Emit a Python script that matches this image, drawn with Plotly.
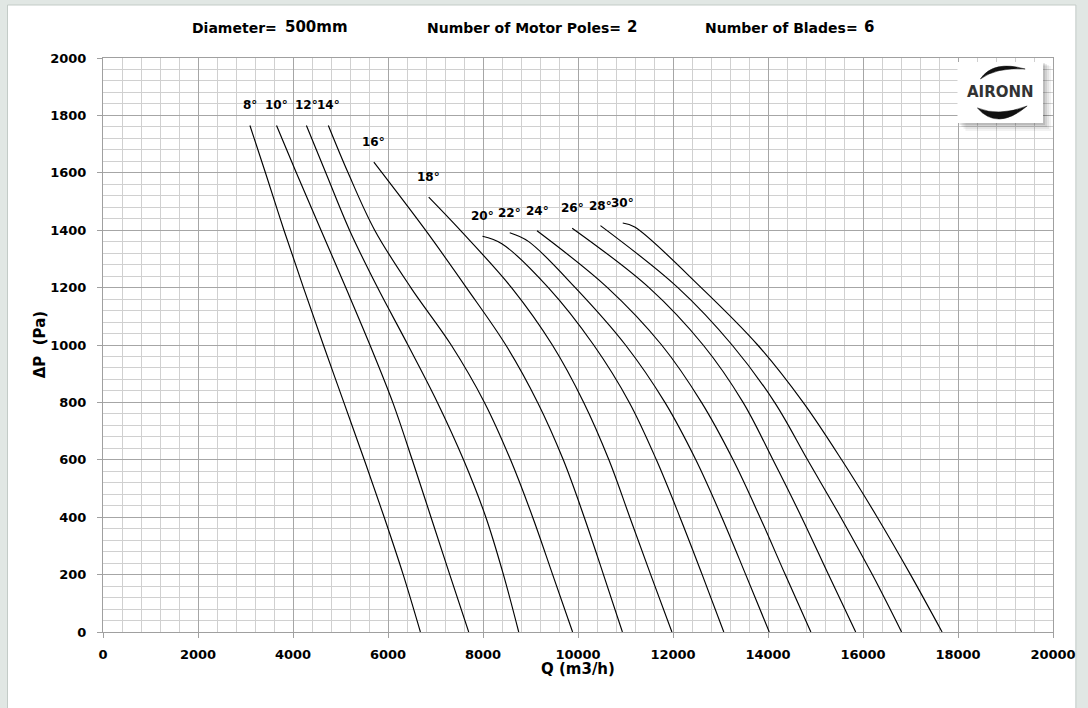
import plotly.graph_objects as go

# ---------------- data ----------------
angle_labels = ["8°", "10°", "12°", "14°", "16°", "18°", "20°", "22°", "24°", "26°", "28°", "30°"]

q_08 = [3093, 3420, 3810, 4220, 4640, 5070, 5500, 5920, 6320, 6682]
dp_08 = [1765, 1600, 1400, 1200, 1000, 800, 600, 400, 200, 0]

q_10 = [3653, 4070, 4590, 5110, 5620, 6100, 6510, 6905, 7300, 7699]
dp_10 = [1765, 1600, 1400, 1200, 1000, 800, 600, 400, 200, 0]

q_12 = [4282, 4690, 5190, 5780, 6420, 7040, 7590, 8060, 8430, 8752]
dp_12 = [1765, 1600, 1400, 1200, 1000, 800, 600, 400, 200, 0]

q_14 = [4744, 5160, 5720, 6480, 7330, 8030, 8580, 9046, 9466, 9886]
dp_14 = [1765, 1600, 1400, 1200, 1000, 800, 600, 400, 200, 0]

q_16 = [5702, 6790, 7650, 8480, 9150, 9690, 10131, 10536, 10935]
dp_16 = [1637, 1400, 1200, 1000, 800, 600, 400, 200, 0]

q_18 = [6857, 7520, 8600, 9460, 10120, 10650, 11090, 11530, 11977]
dp_18 = [1515, 1400, 1200, 1000, 800, 600, 400, 200, 0]

q_20 = [7989, 8396, 9375, 10330, 11080, 11650, 12146, 12614, 13069]
dp_20 = [1379, 1353, 1200, 1000, 800, 600, 400, 200, 0]

q_22 = [8563, 8955, 9942, 11000, 11830, 12480, 13027, 13531, 14027]
dp_22 = [1391, 1361, 1200, 1000, 800, 600, 400, 200, 0]

q_24 = [9137, 10620, 11761, 12600, 13265, 13831, 14363, 14902]
dp_24 = [1398, 1200, 1000, 800, 600, 400, 200, 0]

q_26 = [9878, 11495, 12635, 13475, 14104, 14706, 15273, 15846]
dp_26 = [1407, 1200, 1000, 800, 600, 400, 200, 0]

q_28 = [10473, 12103, 13244, 14139, 14832, 15531, 16196, 16812]
dp_28 = [1416, 1200, 1000, 800, 600, 400, 200, 0]

q_30 = [10942, 11194, 12593, 13783, 14740, 15550, 16300, 17000, 17665]
dp_30 = [1425, 1411, 1200, 1000, 800, 600, 400, 200, 0]

x_ticks = [0, 2000, 4000, 6000, 8000, 10000, 12000, 14000, 16000, 18000, 20000]
y_ticks = [0, 200, 400, 600, 800, 1000, 1200, 1400, 1600, 1800, 2000]

header_labels = ["Diameter=", "Number of Motor Poles=", "Number of Blades="]
header_values = ["500mm", "2", "6"]

curves_q = [q_08, q_10, q_12, q_14, q_16, q_18, q_20, q_22, q_24, q_26, q_28, q_30]
curves_dp = [dp_08, dp_10, dp_12, dp_14, dp_16, dp_18, dp_20, dp_22, dp_24, dp_26, dp_28, dp_30]

# ---------------- layout geometry ----------------
W, H = 1088, 708
L, R, T, B = 103, 30, 58, 76
PW, PH = W - L - R, H - T - B
FONT = "DejaVu Sans"


def px(x):
    return (x - L) / PW


def py(y):
    return (H - B - y) / PH


fig = go.Figure()

for name, q, dp in zip(angle_labels, curves_q, curves_dp):
    fig.add_trace(go.Scatter(
        x=q, y=dp, mode="lines", name=name,
        line=dict(color="#000000", width=1.15, shape="spline", smoothing=1.0),
        showlegend=False, hoverinfo="skip"))
    fig.add_annotation(x=q[0], y=dp[0], xref="x", yref="y", text=name,
                       showarrow=False, yshift=20,
                       font=dict(family=FONT, size=12, color="#000", weight="bold"))

shapes = []
# outer white panel
shapes.append(dict(type="rect", xref="paper", yref="paper",
                   x0=px(7), x1=px(1081), y0=py(712), y1=py(5),
                   fillcolor="#ffffff", line=dict(color="#c3cbc7", width=1), layer="below"))

# logo: shadow + white box
for off, alpha in [(8, 0.05), (6, 0.06), (4, 0.08), (2, 0.10)]:
    shapes.append(dict(type="rect", xref="paper", yref="paper",
                       x0=px(962 + off), x1=px(1048 + off), y0=py(123 + off), y1=py(62 + off / 2),
                       fillcolor="rgba(0,0,0,%s)" % alpha, line=dict(width=0)))
shapes.append(dict(type="rect", xref="paper", yref="paper",
                   x0=px(962), x1=px(1048), y0=py(123), y1=py(62),
                   fillcolor="#ffffff", line=dict(width=0)))


def path(pts):
    s = "M %f,%f " % (px(pts[0][0]), py(pts[0][1]))
    i = 1
    while i < len(pts):
        (cx, cy), (ex, ey) = pts[i], pts[i + 1]
        s += "Q %f,%f %f,%f " % (px(cx), py(cy), px(ex), py(ey))
        i += 2
    return s + "Z"


shapes.append(dict(type="path", xref="paper", yref="paper",
                   path=path([(985, 79), (998, 60), (1030, 69), (1001, 67), (985, 79)]),
                   fillcolor="#111111", line=dict(color="#111111", width=0.5)))
shapes.append(dict(type="path", xref="paper", yref="paper",
                   path=path([(982, 108), (1002, 131), (1032, 106), (1004, 117), (982, 108)]),
                   fillcolor="#111111", line=dict(color="#111111", width=0.5)))

fig.add_annotation(xref="paper", yref="paper", x=px(1005), y=py(92), text="AIRONN",
                   showarrow=False, xanchor="center", yanchor="middle",
                   font=dict(family=FONT, size=15, color="#333333", weight="bold"))

# header texts
header_pos = [(190, 284), (427, 628), (706, 866)]
for (lx, vx), lab, val in zip(header_pos, header_labels, header_values):
    fig.add_annotation(xref="paper", yref="paper", x=px(lx), y=py(28), text=lab,
                       showarrow=False, xanchor="left", yanchor="middle",
                       font=dict(family=FONT, size=14, color="#000", weight="bold"))
    fig.add_annotation(xref="paper", yref="paper", x=px(vx), y=py(27), text=val,
                       showarrow=False, xanchor="left", yanchor="middle",
                       font=dict(family=FONT, size=15, color="#000", weight="bold"))

# axis titles
fig.add_annotation(xref="paper", yref="paper", x=px(40), y=py(345), text="ΔP  (Pa)",
                   textangle=-90, showarrow=False, xanchor="center", yanchor="middle",
                   font=dict(family=FONT, size=15, color="#000", weight="bold"))
fig.add_annotation(xref="paper", yref="paper", x=px(581), y=py(669), text="Q (m3/h)",
                   showarrow=False, xanchor="center", yanchor="middle",
                   font=dict(family=FONT, size=15, color="#000", weight="bold"))

axis_common = dict(
    showgrid=True, gridcolor="#a6a6a6", gridwidth=1,
    showline=True, linecolor="#a0a0a0", linewidth=1, mirror=True,
    ticks="outside", ticklen=5, tickcolor="#a0a0a0",
    zeroline=False,
    tickfont=dict(family=FONT, size=13, color="#000", weight="bold"),
)

fig.update_layout(
    width=W, height=H,
    margin=dict(l=L, r=R, t=T, b=B),
    paper_bgcolor="#e1e7e4",
    plot_bgcolor="#ffffff",
    shapes=shapes,
    xaxis=dict(range=[0, 20000], tickvals=x_ticks, ticktext=[str(v) for v in x_ticks],
               minor=dict(dtick=400, tick0=0, showgrid=True, gridcolor="#d0d0d0", gridwidth=1),
               ticklabelstandoff=5, **axis_common),
    yaxis=dict(range=[0, 2000], tickvals=y_ticks, ticktext=[str(v) for v in y_ticks],
               minor=dict(dtick=40, tick0=0, showgrid=True, gridcolor="#d0d0d0", gridwidth=1),
               ticklabelstandoff=8, **axis_common),
)

fig.write_html("out.html",
               config={"displayModeBar": False},
               post_script="document.body.style.margin='0';document.body.style.padding='0';")
